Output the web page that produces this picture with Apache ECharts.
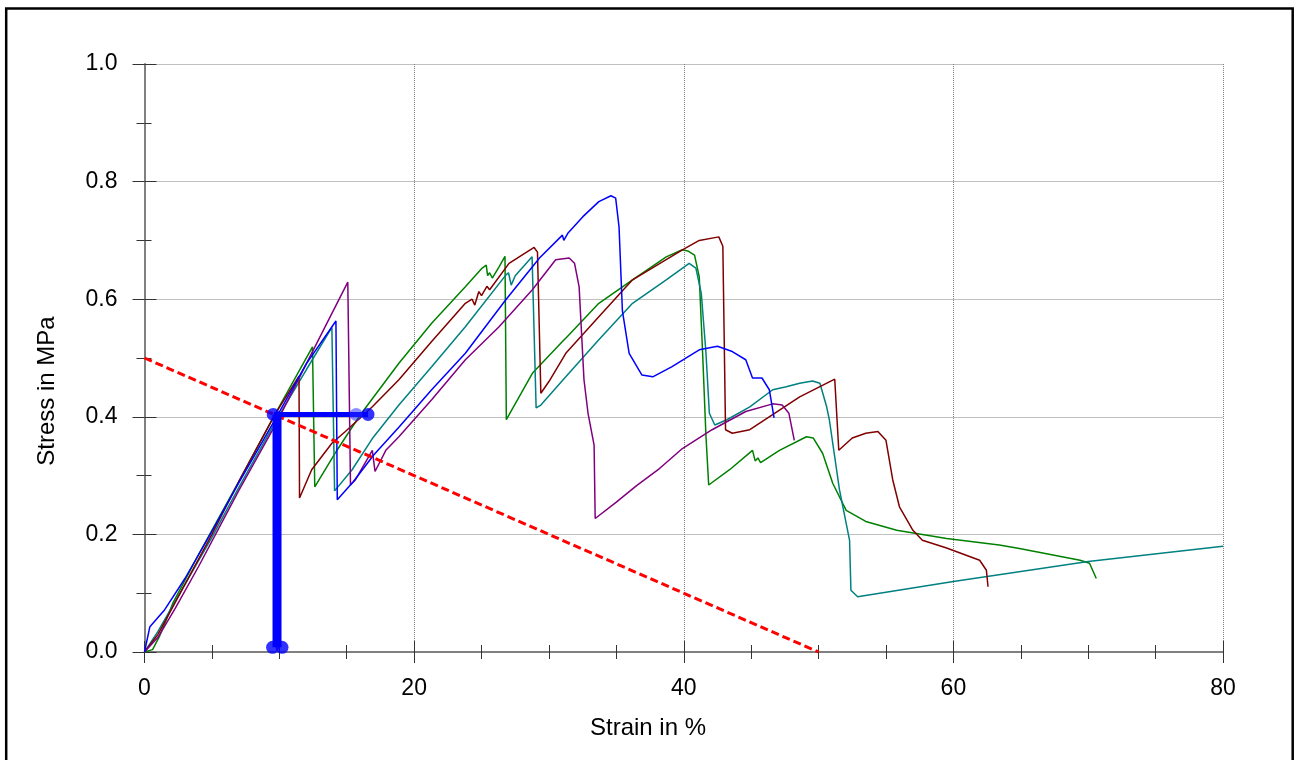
<!DOCTYPE html>
<html>
<head>
    <meta charset="UTF-8">
    <title>Stress strain</title>
    <script type="text/javascript" src="https://cdn.jsdelivr.net/npm/echarts@6/dist/echarts.min.js"></script>
    <style>
        body { margin: 0; background: #fff; }
        #main { width: 1298px; height: 760px; }
    </style>
</head>
<body>
<div id="main"></div>
<script type="text/javascript">
    // strain %, stress MPa
    var blueCurve = [[0,0],[0.4,0.043],[0.9,0.056],[1.5,0.072],[3,0.125],[5,0.205],[7,0.288],[9.8,0.4],[12,0.49],[14.2,0.563],[14.3,0.259],[15.5,0.29],[17,0.335],[18.9,0.383],[21.3,0.446],[23.8,0.508],[26.8,0.599],[29.3,0.67],[31.0,0.709],[31.1,0.70],[31.4,0.712],[32.5,0.74],[33.7,0.766],[34.6,0.776],[34.95,0.772],[35.2,0.723],[35.45,0.58],[35.95,0.508],[36.9,0.471],[37.7,0.468],[39.1,0.485],[41.15,0.514],[42.5,0.52],[43.6,0.511],[44.6,0.497],[45.1,0.466],[45.8,0.466],[46.35,0.446],[46.7,0.398]];
    var redCurve = [[0,0],[1,0.03],[3,0.115],[5,0.2],[7,0.29],[9.7,0.405],[11.46,0.469],[11.5,0.262],[12.4,0.31],[13.9,0.355],[14.9,0.375],[16.9,0.417],[18.87,0.463],[21.3,0.528],[23.8,0.593],[24.3,0.6],[24.5,0.59],[24.8,0.613],[25.0,0.606],[25.4,0.622],[25.6,0.616],[27.04,0.661],[28.2,0.678],[28.9,0.688],[29.15,0.68],[29.4,0.44],[30,0.46],[31.25,0.508],[33.7,0.57],[36.2,0.633],[39.9,0.684],[41.15,0.70],[42.6,0.706],[42.9,0.69],[43.1,0.378],[43.6,0.372],[44.9,0.378],[48.6,0.434],[51.2,0.464],[51.5,0.343],[52.5,0.364],[53.5,0.372],[54.4,0.375],[55,0.36],[55.5,0.293],[56,0.247],[57,0.207],[57.7,0.19],[59.5,0.177],[61.95,0.156],[62.45,0.139],[62.57,0.111]];
    var tealCurve = [[0,0],[1,0.035],[3,0.115],[5,0.195],[7,0.28],[9.8,0.395],[12,0.48],[13.9,0.552],[14.1,0.274],[15.4,0.31],[16.9,0.363],[18.87,0.42],[21.3,0.485],[23.8,0.553],[26.8,0.641],[27.0,0.645],[27.2,0.624],[27.5,0.64],[28.75,0.672],[29.05,0.415],[29.4,0.42],[31.25,0.468],[33.7,0.531],[36.2,0.593],[38.7,0.633],[40.4,0.661],[40.9,0.653],[41.3,0.61],[41.65,0.508],[41.9,0.406],[42.3,0.386],[43.2,0.395],[44.9,0.417],[46.6,0.446],[47.6,0.451],[48.6,0.457],[49.55,0.461],[50.1,0.457],[50.6,0.417],[50.8,0.395],[51.55,0.276],[52.3,0.19],[52.4,0.105],[52.9,0.094],[60,0.12],[70,0.154],[80,0.18]];
    var greenCurve = [[0,0],[0.6,0.004],[1.1,0.026],[1.6,0.054],[2.1,0.083],[4,0.165],[7,0.29],[9.7,0.405],[12.46,0.519],[12.63,0.281],[14.3,0.344],[16,0.403],[18.87,0.491],[21.3,0.559],[23.8,0.621],[25.05,0.653],[25.35,0.658],[25.45,0.64],[25.6,0.645],[25.8,0.636],[26.3,0.655],[26.74,0.673],[26.84,0.395],[28.77,0.474],[31.0,0.528],[31.3,0.535],[33.7,0.593],[36.2,0.633],[38.7,0.672],[39.9,0.684],[40.3,0.682],[40.8,0.675],[41.15,0.638],[41.4,0.508],[41.65,0.366],[41.85,0.284],[43.4,0.31],[45.1,0.343],[45.3,0.325],[45.5,0.33],[45.7,0.322],[47.1,0.343],[49.1,0.366],[49.6,0.364],[50.3,0.338],[51.05,0.287],[52.05,0.241],[53.5,0.222],[55.8,0.207],[59.5,0.193],[63.4,0.182],[64.9,0.176],[69.4,0.156],[70.1,0.151],[70.6,0.125]];
    var purpleCurve = [[0,0],[1,0.025],[2.3,0.075],[4,0.145],[7,0.275],[9.8,0.39],[12,0.49],[15.08,0.629],[15.28,0.284],[15.65,0.293],[16.9,0.343],[17.1,0.307],[17.9,0.343],[18.87,0.366],[21.3,0.429],[23.8,0.497],[26.3,0.553],[28.77,0.616],[30.5,0.667],[31.5,0.67],[31.9,0.661],[32.24,0.621],[32.6,0.463],[32.9,0.406],[33.35,0.352],[33.43,0.227],[35,0.255],[36.5,0.283],[38.2,0.312],[39.9,0.346],[42.1,0.378],[44.6,0.409],[46.6,0.422],[47.3,0.42],[47.8,0.406],[48.2,0.36]];
    // red dashed line and blue marker lines
    var dashLine = [[0,0.5],[50,0]];
    var markerVertical = [[9.83,0.008],[9.83,0.404]];
    var markerHorizontal = [[9.6,0.404],[16.58,0.404]];
    var markerDots = [[9.5,0.008],[10.2,0.008],[9.55,0.404],[16.58,0.404]];
    var markerDotFaint = [[15.7,0.404]];

    var xTicks = [0, 20, 40, 60, 80];
    var yTicks = [0, 0.2, 0.4, 0.6, 0.8, 1.0];

    var myChart = echarts.init(document.getElementById('main'));

    function curve(data, color) {
        return {
            type: 'line', data: data, showSymbol: false, smooth: false,
            lineStyle: { color: color, width: 1.5 }, z: 3
        };
    }

    var fontName = 'Liberation Sans, Arial, sans-serif';

    var option = {
        animation: false,
        backgroundColor: '#fff',
        grid: { left: 144.5, right: 75, top: 64, bottom: 108 },
        xAxis: [
            {
                type: 'value', min: xTicks[0], max: xTicks[xTicks.length - 1], interval: 20,
                axisLine: { onZero: false, lineStyle: { color: '#808080', width: 2 } },
                axisTick: { length: 11, lineStyle: { color: '#333', width: 1 } },
                minorTick: { show: true, splitNumber: 4, length: 7, lineStyle: { color: '#333', width: 1 } },
                axisLabel: { margin: 25, color: '#000', fontSize: 23, fontFamily: fontName },
                splitLine: { show: true, lineStyle: { color: '#808080', type: 'dotted', width: 1 } }
            },
            {
                type: 'value', position: 'top', min: 0, max: 80, interval: 20,
                axisLine: { show: false, onZero: true },
                axisTick: { length: 11, lineStyle: { color: '#333', width: 1 } },
                minorTick: { show: true, splitNumber: 4, length: 7, lineStyle: { color: '#333', width: 1 } },
                axisLabel: { show: false },
                splitLine: { show: false }
            }
        ],
        yAxis: [
            {
                type: 'value', min: yTicks[0], max: yTicks[yTicks.length - 1], interval: 0.2,
                axisLine: { show: true, onZero: false, lineStyle: { color: '#808080', width: 2 } },
                axisTick: { show: true, length: 12, lineStyle: { color: '#333', width: 1 } },
                minorTick: { show: true, splitNumber: 2, length: 8, lineStyle: { color: '#333', width: 1 } },
                axisLabel: { margin: 27, color: '#000', fontSize: 23, fontFamily: fontName,
                    formatter: function (v) { return v.toFixed(1); } },
                splitLine: { show: true, lineStyle: { color: '#808080', type: 'dotted', width: 1 } }
            },
            {
                type: 'value', position: 'right', min: 0, max: 1, interval: 0.2,
                axisLine: { show: false, onZero: true },
                axisTick: { show: true, length: 12, lineStyle: { color: '#333', width: 1 } },
                minorTick: { show: true, splitNumber: 2, length: 7, lineStyle: { color: '#333', width: 1 } },
                axisLabel: { show: false },
                splitLine: { show: false }
            }
        ],
        graphic: [
            { type: 'rect', shape: { x: 6.2, y: 8.4, width: 1286.5, height: 800 },
              style: { fill: 'none', stroke: '#000', lineWidth: 2.5 }, z: 10 },
            { type: 'text', x: 648, y: 728, style: { text: 'Strain in %', fill: '#000',
              font: '24px ' + fontName, textAlign: 'center', textVerticalAlign: 'middle' } },
            { type: 'text', x: 47, y: 391, rotation: Math.PI / 2, style: { text: 'Stress in MPa', fill: '#000',
              font: '24px ' + fontName, textAlign: 'center', textVerticalAlign: 'middle' } }
        ],
        series: [
            curve(greenCurve, '#008000'),
            curve(tealCurve, '#008080'),
            curve(redCurve, '#800000'),
            curve(purpleCurve, '#800080'),
            curve(blueCurve, '#0000ff'),
            {
                type: 'line', data: dashLine, showSymbol: false, z: 4,
                lineStyle: { color: '#ff0000', width: 3, type: [8, 4] }
            },
            {
                type: 'line', data: markerVertical, showSymbol: false, z: 5,
                lineStyle: { color: '#0000ff', width: 9 }
            },
            {
                type: 'line', data: markerHorizontal, showSymbol: false, z: 5,
                lineStyle: { color: '#0000ff', width: 5 }
            },
            {
                type: 'scatter', data: markerDots, symbolSize: 13, z: 6,
                itemStyle: { color: '#0000ff' }
            },
            {
                type: 'scatter', data: markerDotFaint, symbolSize: 13, z: 6,
                itemStyle: { color: 'rgba(40,40,255,0.65)' }
            }
        ]
    };

    myChart.setOption(option);
</script>
</body>
</html>
